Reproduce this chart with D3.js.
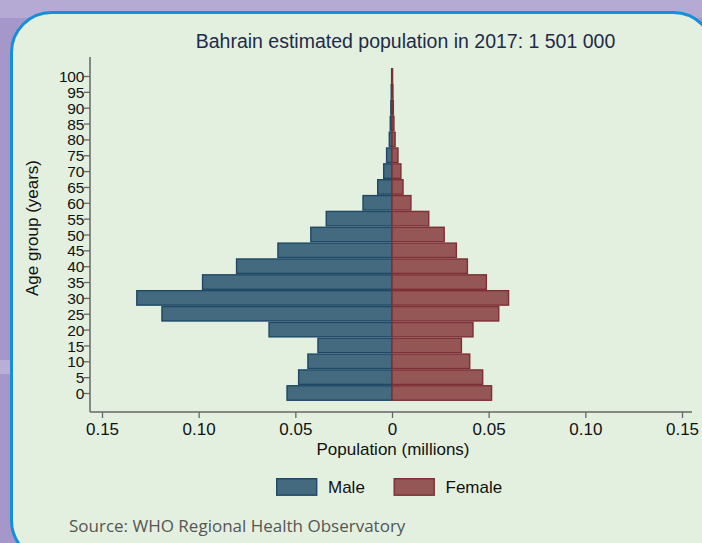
<!DOCTYPE html>
<html>
<head>
<meta charset="utf-8">
<script src="https://cdn.jsdelivr.net/npm/d3@7"></script>
<style>
  html, body { margin: 0; padding: 0; background: #a89bcb; }
  svg { display: block; }
</style>
</head>
<body>
<svg id="chart" width="702" height="543"></svg>
<script>
const ages = [0,5,10,15,20,25,30,35,40,45,50,55,60,65,70,75,80,85,90,95,100];
const male = [0.0543,0.0483,0.0435,0.0383,0.0636,0.119,0.132,0.098,0.0804,0.059,0.042,0.034,0.015,0.0074,0.0043,0.0028,0.0014,0.0009,0.0006,0.0004,0.0002];
const female = [0.0515,0.0469,0.0402,0.0359,0.0419,0.0552,0.0603,0.0488,0.039,0.0333,0.027,0.019,0.0098,0.0057,0.0046,0.0031,0.0016,0.001,0.0007,0.0005,0.0003];
const xTicks = [-0.15,-0.10,-0.05,0,0.05,0.10,0.15];
const titleText = "Bahrain estimated population in 2017: 1 501 000";
const xTitle = "Population (millions)";
const yTitle = "Age group (years)";
const legendLabels = ["Male","Female"];
const sourceText = "Source: WHO Regional Health Observatory";

const svg = d3.select("#chart");
const font = "'Liberation Sans', Arial, Helvetica, sans-serif";

// background strips
svg.append("rect").attr("x",0).attr("y",0).attr("width",702).attr("height",543).attr("fill","#a597c9");
svg.append("rect").attr("x",0).attr("y",0).attr("width",702).attr("height",18).attr("fill","#b5aad4");
svg.append("rect").attr("x",0).attr("y",360).attr("width",20).attr("height",14).attr("fill","#b8aed8");

// panel
svg.append("rect").attr("x",11.5).attr("y",12.5).attr("width",702).attr("height",548)
  .attr("rx",40).attr("fill","#e3f0df").attr("stroke","#1590d8").attr("stroke-width",3);

const x = d3.scaleLinear().domain([-0.15,0.15]).range([102,682]);
const y = d3.scaleLinear().domain([0,100]).range([393,76]);
const bandH = (y(0)-y(5));
const barH = bandH - 1.4;

// title
svg.append("text").attr("x",405.5).attr("y",48).attr("text-anchor","middle")
  .attr("font-family",font).attr("font-size",19.5).attr("fill","#1e2b4a").text(titleText);

// bars
const data = ages.map((a,i)=>({age:a, m:male[i], f:female[i]}));
const g = svg.append("g");
g.selectAll("rect.m").data(data).join("rect").attr("class","m")
  .attr("x", d=>x(-d.m)).attr("width", d=>x(0)-x(-d.m))
  .attr("y", d=>y(d.age)-barH/2).attr("height", barH)
  .attr("fill","#436a7e").attr("stroke","#1e4865").attr("stroke-width",1.4);
g.selectAll("rect.f").data(data).join("rect").attr("class","f")
  .attr("x", x(0)).attr("width", d=>x(d.f)-x(0))
  .attr("y", d=>y(d.age)-barH/2).attr("height", barH)
  .attr("fill","#955656").attr("stroke","#7d2f35").attr("stroke-width",1.4);

// axes
const axisColor = "#666";
const xAxis = svg.append("g").attr("transform","translate(0,412)")
  .call(d3.axisBottom(x).tickValues(xTicks).tickSize(6).tickSizeOuter(0)
    .tickFormat(d => d===0 ? "0" : d3.format(".2f")(Math.abs(d))));
xAxis.select(".domain").remove();
xAxis.append("line").attr("x1",90).attr("x2",692).attr("y1",0).attr("y2",0)
  .attr("stroke",axisColor).attr("stroke-width",1.5);
xAxis.selectAll(".tick line").attr("stroke",axisColor).attr("stroke-width",1.3);
xAxis.selectAll(".tick text").attr("font-family",font).attr("font-size",17)
  .attr("fill","#111").attr("dy","0").attr("y",23);

const yAxis = svg.append("g").attr("transform","translate(90,0)")
  .call(d3.axisLeft(y).tickValues(ages).tickSize(6).tickSizeOuter(0).tickFormat(d3.format("d")));
yAxis.select(".domain").remove();
yAxis.append("line").attr("x1",0).attr("x2",0).attr("y1",57).attr("y2",412)
  .attr("stroke",axisColor).attr("stroke-width",1.5);
yAxis.selectAll(".tick line").attr("stroke",axisColor).attr("stroke-width",1.3);
yAxis.selectAll(".tick text").attr("font-family",font).attr("font-size",15.5)
  .attr("fill","#111").attr("x",-6).attr("dy","0.36em").attr("letter-spacing","-0.3");

// axis titles
svg.append("text").attr("x",393).attr("y",455).attr("text-anchor","middle")
  .attr("font-family",font).attr("font-size",17).attr("fill","#111").text(xTitle);
svg.append("text").attr("transform","translate(38,228) rotate(-90)").attr("text-anchor","middle")
  .attr("font-family",font).attr("font-size",17).attr("fill","#111").text(yTitle);

// legend
const legendColors = [["#436a7e","#1e4865"],["#955656","#7d2f35"]];
const legendX = [276, 393.5];
legendLabels.forEach((lab,i)=>{
  svg.append("rect").attr("x",legendX[i]+0.7).attr("y",478.7).attr("width",40).attr("height",16.5)
    .attr("fill",legendColors[i][0]).attr("stroke",legendColors[i][1]).attr("stroke-width",1.4);
  svg.append("text").attr("x",legendX[i]+52).attr("y",493).attr("font-family",font)
    .attr("font-size",17).attr("fill","#111").text(lab);
});

// source
svg.append("text").attr("x",69).attr("y",532).attr("font-family","'Open Sans', sans-serif")
  .attr("font-size",17).attr("fill","#555").text(sourceText);
</script>
</body>
</html>
